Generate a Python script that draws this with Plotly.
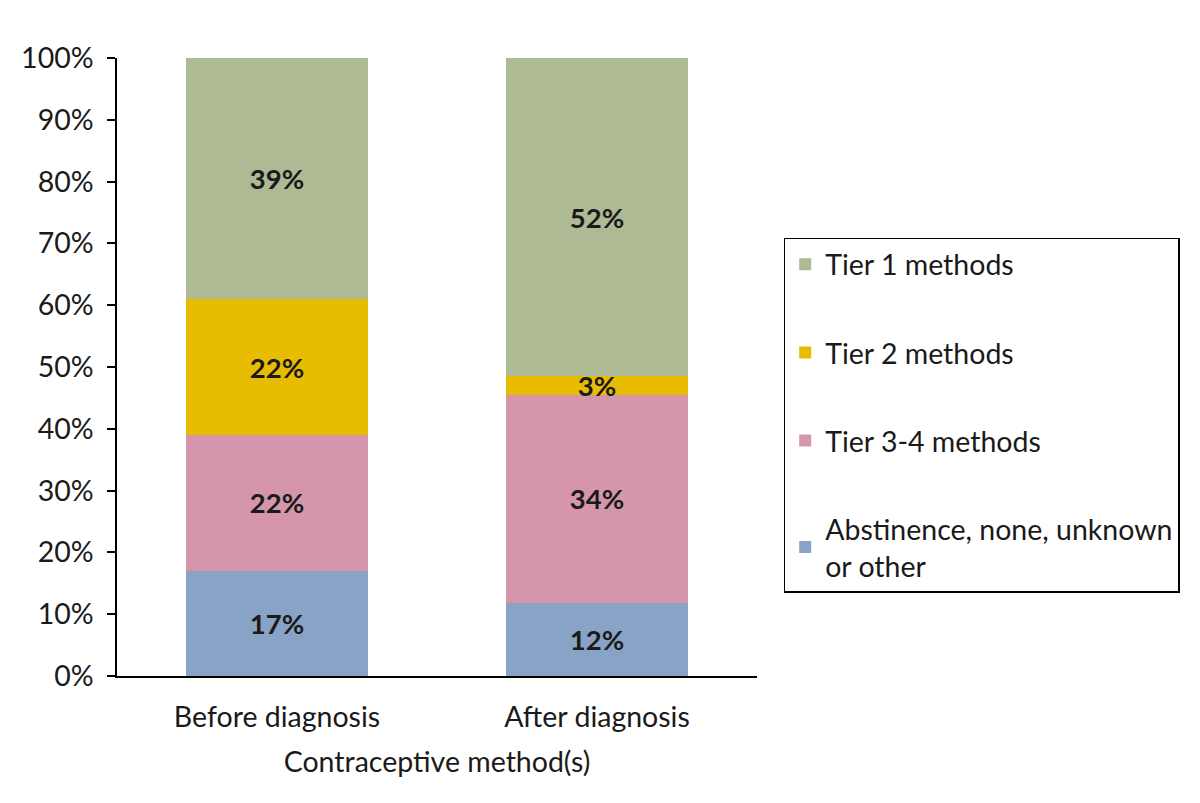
import plotly.graph_objects as go

categories = ["Before diagnosis", "After diagnosis"]
series_names = ["Abstinence, none, unknown<br>or other", "Tier 3-4 methods", "Tier 2 methods", "Tier 1 methods"]
abstinence = [17, 12]
tier34 = [22, 34]
tier2 = [22, 3]
tier1 = [39, 52]
colors = ["#88a3c6", "#d595aa", "#e8bc00", "#adba94"]
y_ticks = [0, 10, 20, 30, 40, 50, 60, 70, 80, 90, 100]

FONT = "Lato, 'Open Sans', sans-serif"
FS = 28.5

fig = go.Figure()
for i, (name, vals) in enumerate(zip(series_names, [abstinence, tier34, tier2, tier1])):
    fig.add_trace(go.Bar(
        x=categories, y=vals, name=name,
        marker=dict(color=colors[i], line=dict(width=0)),
        text=[f"{v}%" for v in vals],
        textposition="inside", insidetextanchor="middle",
        textfont=dict(family=FONT, size=27.5, color="#1a1a1a", weight="bold"),
        legendgroup=f"g{i}", legendrank=4 - i,
    ))

fig.update_layout(
    barmode="stack", barnorm="percent", bargap=0.43,
    width=1200, height=803,
    margin=dict(l=117, r=443, t=58, b=127),
    paper_bgcolor="white", plot_bgcolor="white",
    font=dict(family=FONT, size=FS, color="#1a1a1a"),
    uniformtext=dict(mode="show", minsize=27),
    legend=dict(
        x=1.0417, xanchor="left", y=0.709, yanchor="top",
        traceorder="grouped", tracegroupgap=48,
        bordercolor="black", borderwidth=1.5,
        font=dict(family=FONT, size=FS, color="#1a1a1a"),
    ),
    xaxis=dict(
        showline=True, linecolor="black", linewidth=1.5, ticks="",
        tickfont=dict(size=FS), ticklabelstandoff=15,
        title=dict(text="Contraceptive method(s)", font=dict(size=FS), standoff=20),
    ),
    yaxis=dict(
        range=[0, 100], tickvals=y_ticks, ticktext=[f"{v}%" for v in y_ticks],
        showline=True, linecolor="black", linewidth=1.5,
        ticks="outside", ticklen=8, tickcolor="black", tickwidth=1.5,
        ticklabelstandoff=8,
        showgrid=False, zeroline=False, tickfont=dict(size=FS),
    ),
)

fig.write_html("out.html")
